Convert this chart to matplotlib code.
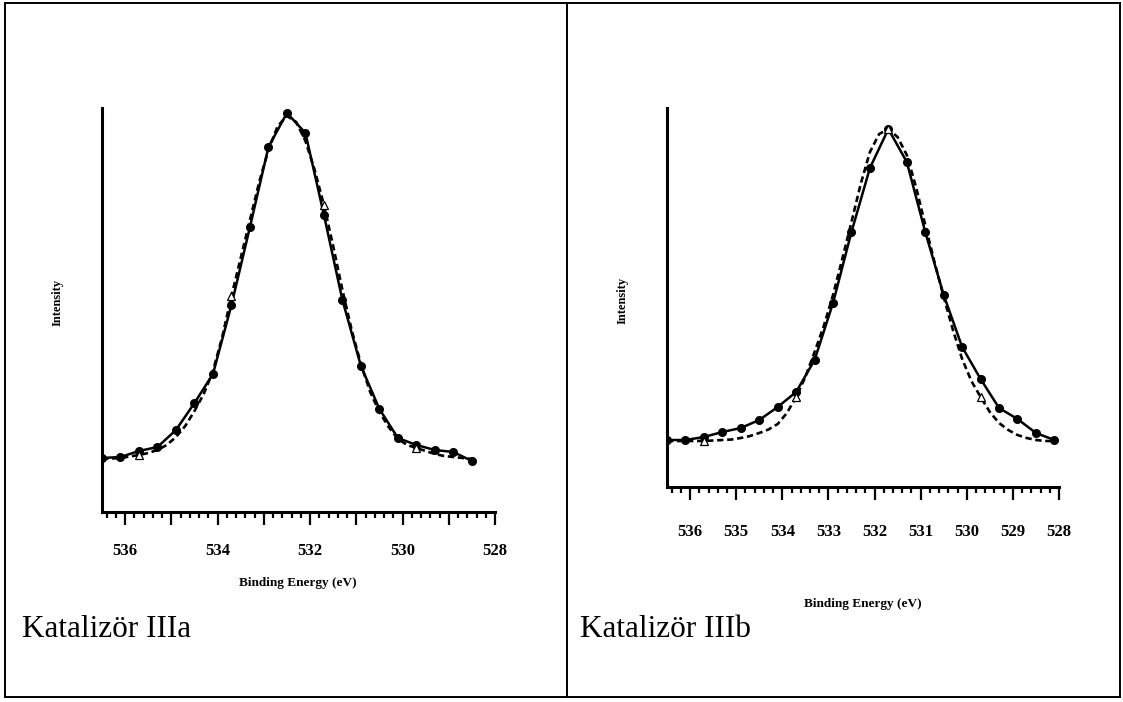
import matplotlib
matplotlib.use("Agg")
import matplotlib.pyplot as plt
from matplotlib.ticker import MultipleLocator, FuncFormatter
from matplotlib.lines import Line2D

plt.rcParams['font.family'] = ['Liberation Serif', 'DejaVu Serif']

# ---------------- data ----------------
# Panel a (Katalizör IIIa): measured points, every 0.4 eV from 536.5 eV
a_energy = [536.5, 536.1, 535.7, 535.3, 534.9, 534.5, 534.1, 533.7, 533.3, 532.9,
            532.5, 532.1, 531.7, 531.3, 530.9, 530.5, 530.1, 529.7, 529.3, 528.9, 528.5]
a_meas = [54, 55, 61, 65, 82, 109, 138, 207, 285, 365,
          399, 379, 297, 212, 146, 103, 74, 67, 62, 60, 51]
# fitted envelope, every 0.2 eV from 536.5 eV
a_fit_energy = [536.5, 536.3, 536.1, 535.9, 535.7, 535.5, 535.3, 535.1, 534.9, 534.7,
                534.5, 534.3, 534.1, 533.9, 533.7, 533.5, 533.3, 533.1, 532.9, 532.7,
                532.5, 532.3, 532.1, 531.9, 531.7, 531.5, 531.3, 531.1, 530.9, 530.7,
                530.5, 530.3, 530.1, 529.9, 529.7, 529.5, 529.3, 529.1, 528.9, 528.7, 528.5]
a_fit = [53, 53.5, 54, 55.5, 57, 59, 62, 67, 75, 86,
         101, 118, 141, 175, 216, 254, 292, 330, 362, 386,
         396, 390, 371, 342, 307, 266, 222, 182, 148, 120,
         100, 85, 73, 67, 64, 61, 58, 56, 55, 54, 53]

# Panel b (Katalizör IIIb)
b_energy = [536.5, 536.1, 535.7, 535.3, 534.9, 534.5, 534.1, 533.7, 533.3, 532.9, 532.5,
            532.1, 531.7, 531.3, 530.9, 530.5, 530.1, 529.7, 529.3, 528.9, 528.5, 528.1]
b_meas = [47, 47, 50, 55, 59, 67, 80, 95, 127, 184, 255,
          319, 358, 325, 255, 192, 140, 108, 79, 68, 54, 47]
b_fit_energy = [536.5, 536.3, 536.1, 535.9, 535.7, 535.5, 535.3, 535.1, 534.9, 534.7,
                534.5, 534.3, 534.1, 533.9, 533.7, 533.5, 533.3, 533.1, 532.9, 532.7,
                532.5, 532.3, 532.1, 531.9, 531.7, 531.5, 531.3, 531.1, 530.9, 530.7,
                530.5, 530.3, 530.1, 529.9, 529.7, 529.5, 529.3, 529.1, 528.9, 528.7,
                528.5, 528.3, 528.1]
b_fit = [46, 46, 46, 46, 46, 46.5, 47, 47.5, 49, 51,
         54, 57.5, 63, 74, 90, 110, 135, 161, 192, 228,
         265, 303, 335, 353, 358, 350, 332, 300, 262, 225,
         190, 157, 128, 106, 90, 75, 64, 57, 52, 49,
         47, 46, 46]

captions = ["Katalizör IIIa", "Katalizör IIIb"]
x_label = "Binding Energy (eV)"
y_label = "Intensity"

# ---------------- figure ----------------
W, H = 1123, 702
fig = plt.figure(figsize=(W / 100, H / 100), dpi=100)

def fx(px):
    return px / W

def fy(py):
    return 1 - py / H

# table borders
lw_b = 1.4
for (x0, y0, x1, y1) in [(5, 3, 1120, 3), (5, 697, 1120, 697), (5, 3, 5, 697),
                         (1120, 3, 1120, 697), (567, 3, 567, 697)]:
    fig.add_artist(Line2D([fx(x0), fx(x1)], [fy(y0), fy(y1)], color='black', lw=lw_b))

panels = [
    dict(rect=(102, 108, 495, 512), energy=a_energy, meas=a_meas, fe=a_fit_energy, fit=a_fit,
         ytop=404, even_only=True, pad=13, xl=(298, 583), yl=(58, 302), cap=(22, 637)),
    dict(rect=(667, 108, 1059, 487), energy=b_energy, meas=b_meas, fe=b_fit_energy, fit=b_fit,
         ytop=379, even_only=False, pad=17, xl=(863, 604), yl=(623, 300), cap=(580, 637)),
]

for i, p in enumerate(panels):
    x0, y0, x1, y1 = p['rect']
    ax = fig.add_axes([fx(x0), fy(y1), (x1 - x0) / W, (y1 - y0) / H])
    ax.plot(p['fe'], p['fit'], color='black', lw=1.9, ls=(0, (2.4, 1.4)), zorder=2)
    ax.plot(p['energy'], p['meas'], color='black', lw=1.8, marker='o', ms=5.5,
            mfc='black', mec='black', zorder=3)
    ax.plot(p['fe'], p['fit'], ls='none', marker='^', ms=5.5, mfc='white', mec='black',
            mew=0.9, markevery=slice(4, None, 10), zorder=4)
    ax.set_xlim(536.5, 528)
    ax.set_ylim(0, p['ytop'])
    for s in ['top', 'right']:
        ax.spines[s].set_visible(False)
    for s in ['left', 'bottom']:
        ax.spines[s].set_linewidth(2.2)
    ax.set_yticks([])
    ax.xaxis.set_major_locator(MultipleLocator(1))
    ax.xaxis.set_minor_locator(MultipleLocator(0.2))
    if p['even_only']:
        ax.xaxis.set_major_formatter(FuncFormatter(
            lambda v, pos: f"{v:.0f}" if round(v) % 2 == 0 else ""))
    else:
        ax.xaxis.set_major_formatter(FuncFormatter(lambda v, pos: f"{v:.0f}"))
    ax.tick_params(axis='x', which='major', direction='out', length=9.5, width=1.6,
                   pad=p['pad'], labelsize=12)
    ax.tick_params(axis='x', which='minor', direction='out', length=4.5, width=1.6)
    for lab in ax.get_xticklabels():
        lab.set_fontweight('bold')
    fig.text(fx(p['xl'][0]), fy(p['xl'][1]), x_label, ha='center', va='center',
             fontsize=9.5, fontweight='bold')
    fig.text(fx(p['yl'][0]), fy(p['yl'][1]), y_label, ha='center', va='center',
             rotation=90, fontsize=9, fontweight='bold')
    fig.text(fx(p['cap'][0]), fy(p['cap'][1]), captions[i], ha='left', va='baseline',
             fontsize=22.5)

fig.savefig("out.png", dpi=100)
